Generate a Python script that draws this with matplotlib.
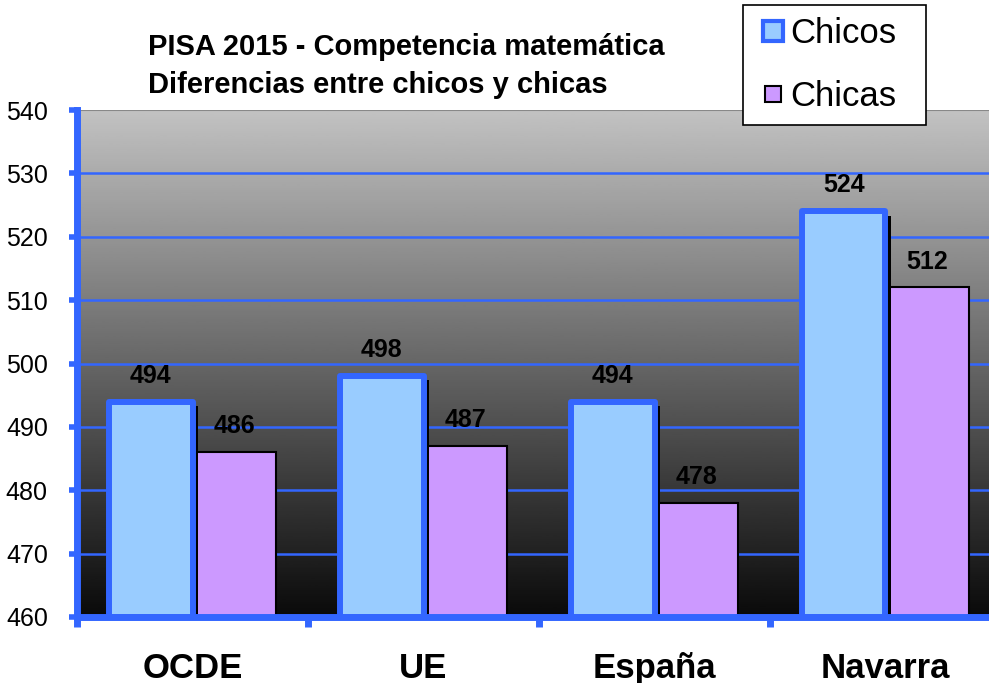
import numpy as np
import matplotlib.pyplot as plt
import matplotlib.patheffects as pe
from matplotlib.lines import Line2D

categories = ["OCDE", "UE", "España", "Navarra"]
chicos = [494, 498, 494, 524]
chicas = [486, 487, 478, 512]
yticks = [460, 470, 480, 490, 500, 510, 520, 530, 540]

BLUE = "#3366ff"
LIGHT_BLUE = "#99ccff"
LILAC = "#cc99ff"

plt.rcParams['font.family'] = ['Liberation Sans', 'DejaVu Sans']

fig = plt.figure(figsize=(9.89, 6.83), dpi=100)
# plot area runs past the right edge of the picture, as in the reference
ax = fig.add_axes([77 / 989, 1 - 617 / 683, 924 / 989, 507 / 683])

ax.set_xlim(-0.5, len(categories) - 0.5)
ax.set_ylim(460, 540)

# gray-to-black gradient background
grad = np.linspace(0.04, 0.76, 256).reshape(-1, 1)
ax.imshow(grad, extent=[-0.5, len(categories) - 0.5, 460, 540], origin="lower",
          cmap="gray", vmin=0, vmax=1, aspect="auto", zorder=0)

for y in yticks[1:-1]:
    ax.axhline(y, color=BLUE, lw=1.8, zorder=1)
ax.axhline(540, color="#888888", lw=1.5, zorder=1)

x = np.arange(len(categories))
w = 0.36
b1 = ax.bar(x - w / 2, np.array(chicos) - 460, w, bottom=460, color=LIGHT_BLUE,
            edgecolor=BLUE, linewidth=4.3, zorder=3, joinstyle="round")
for p in b1:
    p.set_path_effects([pe.SimplePatchShadow(offset=(4, -3), shadow_rgbFace="black", alpha=1),
                        pe.Normal()])
b2 = ax.bar(x + w / 2, np.array(chicas) - 460, w, bottom=460, color=LILAC,
            edgecolor="black", linewidth=1.5, zorder=2)

for xi, v in zip(x - w / 2, chicos):
    ax.text(xi, v + 2.2, str(v), ha="center", va="bottom", fontsize=18,
            fontweight="bold", zorder=5)
for xi, v in zip(x + w / 2, chicas):
    ax.text(xi, v + 2.2, str(v), ha="center", va="bottom", fontsize=18,
            fontweight="bold", zorder=5)

ax.set_yticks(yticks)
ax.set_yticklabels([str(t) for t in yticks], fontsize=18)
ax.set_xticks(np.arange(len(categories) + 1) - 0.5, minor=True)
ax.set_xticks(x)
ax.set_xticklabels(categories, fontsize=25, fontweight="bold")
ax.tick_params(axis="x", which="major", length=0, pad=25)
ax.tick_params(axis="x", which="minor", length=7, width=5, color=BLUE)
ax.tick_params(axis="y", length=6, width=4, color=BLUE, pad=15)

for s in ["top", "right"]:
    ax.spines[s].set_visible(False)
ax.spines["left"].set_color(BLUE)
ax.spines["left"].set_linewidth(5)
ax.spines["bottom"].set_color(BLUE)
ax.spines["bottom"].set_linewidth(5)
ax.spines["left"].set_zorder(6)
ax.spines["bottom"].set_zorder(6)

fig.text(148 / 989, 1 - 66 / 683, "PISA 2015 - Competencia matemática\nDiferencias entre chicos y chicas",
         fontsize=21, fontweight="bold", ha="left", va="center", linespacing=1.45)

handles = [
    Line2D([], [], marker="s", ls="none", markersize=14, markerfacecolor=LIGHT_BLUE,
           markeredgecolor=BLUE, markeredgewidth=3),
    Line2D([], [], marker="s", ls="none", markersize=11, markerfacecolor=LILAC,
           markeredgecolor="black", markeredgewidth=1.5),
]
leg = fig.legend(handles, ["Chicos", "Chicas"], loc="lower left",
                 bbox_to_anchor=(743 / 989, 1 - 125 / 683, 183 / 989, 0.2), mode="expand",
                 borderaxespad=0, fontsize=25, frameon=True, fancybox=False,
                 edgecolor="black", framealpha=1, handletextpad=0.0,
                 labelspacing=0.85, borderpad=0.35, handlelength=1.0)
leg.get_frame().set_linewidth(1.2)

fig.savefig("out.png", dpi=100)
